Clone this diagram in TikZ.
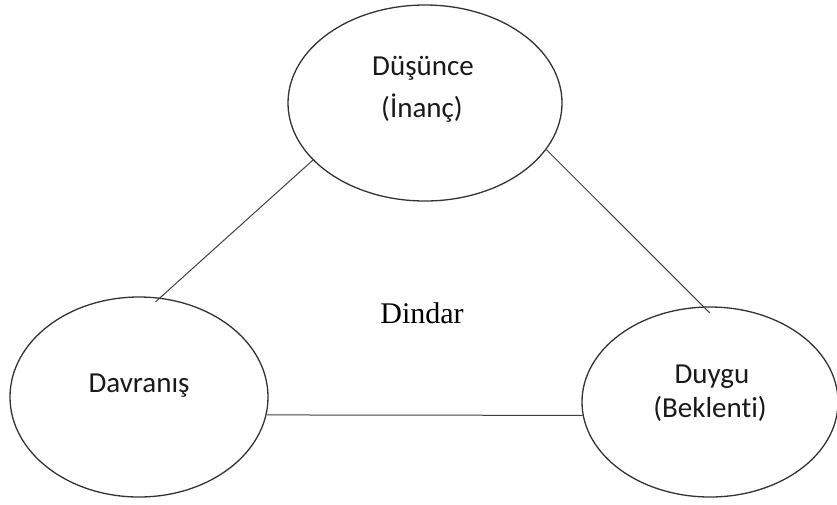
\documentclass[tikz,border=0pt]{standalone}
\usepackage{fontspec}
\setmainfont[Ligatures=CommonOff]{Carlito}
\newfontfamily\serifdin{Liberation Serif}
\usetikzlibrary{shapes.geometric}
\tikzset{
  oval/.style={ellipse, draw=black!80, line width=1.3pt, inner sep=0pt},
  lbl/.style={anchor=base, inner sep=0pt, text=black!90, font=\fontsize{29}{35}\selectfont},
  conn/.style={draw=black!75, line width=1pt},
}
\begin{document}
\begin{tikzpicture}[x=1pt, y=-1pt]
\useasboundingbox (0,0) rectangle (837,504);
\node[oval, minimum width=274pt, minimum height=196pt] (top) at (425,103) {};
\node[oval, minimum width=258pt, minimum height=200pt] (left) at (139,397) {};
\node[oval, minimum width=256pt, minimum height=190pt] (right) at (710,402) {};
\node[lbl] (t1) at (423,75) {Düşünce};
\node[lbl] (t2) at (422,117) {(İnanç)};
\node[lbl] (l1) at (139,392) {Davranış};
\node[lbl] (r1) at (712,383) {Duygu};
\node[lbl] (r2) at (710,417) {(Beklenti)};
\node[anchor=base, inner sep=0pt, text=black, font=\serifdin\fontsize{30}{36}\selectfont] (din) at (422,323) {Dindar};
\draw[conn, shorten >=-6pt] (top.207.4) -- (left.78.3);
\draw[conn, shorten >=-9pt] (top.-21.1) -- (right.94.7);
\draw[conn] (left.-8.5) -- (right.186.3);
\end{tikzpicture}
\end{document}
